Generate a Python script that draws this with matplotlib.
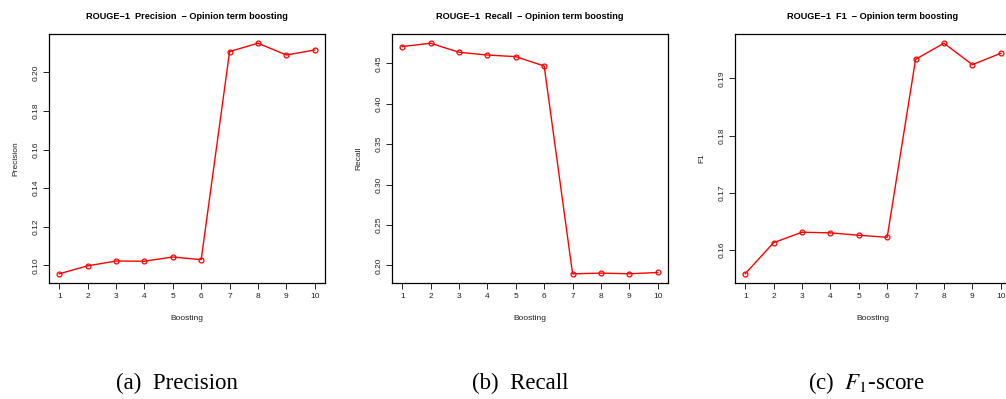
import numpy as np
import matplotlib
matplotlib.use("Agg")
import matplotlib.pyplot as plt

# data
boosting = [1, 2, 3, 4, 5, 6, 7, 8, 9, 10]
precision = [0.0957, 0.0998, 0.1023, 0.1022, 0.1044, 0.1030, 0.2108, 0.2151, 0.2090, 0.2116]
recall = [0.4708, 0.4749, 0.4637, 0.4603, 0.4583, 0.4467, 0.1897, 0.1905, 0.1897, 0.1913]
f1 = [0.15577, 0.16123, 0.16305, 0.16294, 0.16252, 0.16217, 0.19335, 0.19617, 0.19241, 0.19441]

titles = ["ROUGE\u22121  Precision  \u2212 Opinion term boosting",
          "ROUGE\u22121  Recall  \u2212 Opinion term boosting",
          "ROUGE\u22121  F1  \u2212 Opinion term boosting"]
ylabels = ["Precision", "Recall", "F1"]
yticks = [[0.10, 0.12, 0.14, 0.16, 0.18, 0.20],
          [0.20, 0.25, 0.30, 0.35, 0.40, 0.45],
          [0.16, 0.17, 0.18, 0.19]]
captions = ["(a)  Precision", "(b)  Recall", r"(c)  $F_1$-score"]
caption_x = [177, 520, 866]

plt.rcParams['font.family'] = ['Liberation Sans', 'DejaVu Sans']
plt.rcParams['mathtext.fontset'] = 'stix'

W, H = 1006, 399
fig = plt.figure(figsize=(W / 100, H / 100), dpi=100)

lefts = [49, 392, 735]
for i, series in enumerate([precision, recall, f1]):
    ax = fig.add_axes([lefts[i] / W, (H - 283) / H, 276 / W, 249 / H])
    ax.plot(boosting, series, color='red', lw=1, marker='o', ms=3.5,
            mfc='none', mec='red', mew=0.9)
    lo, hi = min(series), max(series)
    pad = (hi - lo) * 0.04
    ax.set_ylim(lo - pad, hi + pad)
    ax.set_xlim(0.64, 10.36)
    ax.set_xticks(boosting)
    ax.set_yticks(yticks[i])
    ax.set_yticklabels(["%.2f" % v for v in yticks[i]], rotation=90, va='center')
    ax.tick_params(labelsize=6, length=4, width=0.7, pad=3, colors='#222222')
    for s in ax.spines.values():
        s.set_linewidth(0.9)
    ax.set_title(titles[i], fontsize=6.6, fontweight='bold', pad=10.5)
    ax.set_xlabel("Boosting", fontsize=6, labelpad=11, color='#222222')
    ax.set_ylabel(ylabels[i], fontsize=6, labelpad=9, color='#222222')
    fig.text(caption_x[i] / W, 1 - 383 / H, captions[i],
             fontsize=16.5, family=['Liberation Serif', 'DejaVu Serif'],
             ha='center', va='center')

fig.savefig("out.png", dpi=100)
